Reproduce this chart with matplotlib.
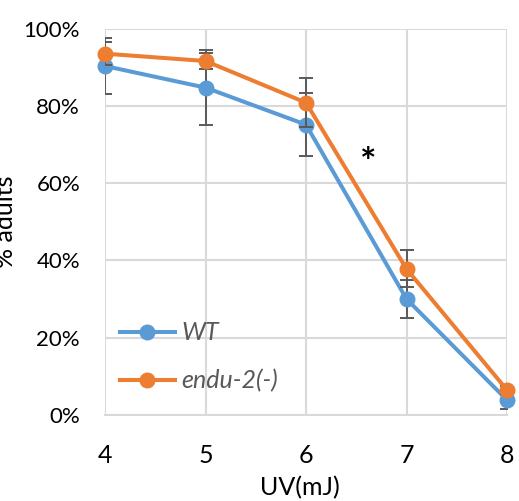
import matplotlib
matplotlib.use("Agg")
import matplotlib.pyplot as plt
from matplotlib.ticker import FuncFormatter

uv = [4, 5, 6, 7, 8]
wt = [0.904, 0.848, 0.752, 0.300, 0.038]
wt_err = [0.072, 0.098, 0.082, 0.048, 0.024]
endu = [0.936, 0.917, 0.809, 0.378, 0.064]
endu_err = [0.030, 0.021, 0.063, 0.048, 0.010]
series_names = ["WT", "endu-2(-)"]
yticks = [0, 0.2, 0.4, 0.6, 0.8, 1.0]

blue = "#5B9BD5"
orange = "#ED7D31"
errc = "#595959"
grid = "#D9D9D9"

plt.rcParams['font.family'] = ['Lato', 'DejaVu Sans']

fig = plt.figure(figsize=(5.19, 5.01), dpi=100)
ax = fig.add_axes([105/519, 1-414.7/501, (507-105)/519, (414.7-29)/501])

for vals, errs, col, name, z in [(wt, wt_err, blue, series_names[0], 3),
                                  (endu, endu_err, orange, series_names[1], 4)]:
    ax.errorbar(uv, vals, yerr=errs, fmt='none', ecolor=errc, elinewidth=1.4,
                capsize=5, capthick=1.4, zorder=z)
    ax.plot(uv, vals, color=col, lw=2.9, marker='o', markersize=10.5,
            label=name, zorder=z + 0.5, clip_on=False)

ax.set_xlim(4, 8)
ax.set_ylim(0, 1)
ax.set_xticks(uv)
ax.set_yticks(yticks)
ax.yaxis.set_major_formatter(FuncFormatter(lambda v, p: f"{v*100:.0f}%"))
ax.grid(True, color=grid, lw=1.5, zorder=0)
ax.set_axisbelow(True)
for s in ax.spines.values():
    s.set_visible(False)
ax.spines['bottom'].set_visible(True)
ax.spines['bottom'].set_color(grid)
ax.spines['bottom'].set_linewidth(1.5)
ax.tick_params(axis='both', length=0, colors='black')
ax.tick_params(axis='x', pad=21, labelsize=18)
ax.tick_params(axis='y', pad=18, labelsize=16)

ax.set_xlabel("UV(mJ)", fontsize=18)
ax.xaxis.set_label_coords((300-105)/402, -0.158)
ax.set_ylabel("% adults", fontsize=18)
ax.yaxis.set_label_coords(-0.218, 0.5)

ax.text(6.62, 0.65, "*", fontsize=28, fontweight='bold', ha='center', va='center', color='black')

leg = ax.legend(loc='lower left', bbox_to_anchor=(0.037, 0.057), frameon=False,
                prop={'style': 'italic', 'size': 18}, handlelength=2.2,
                labelspacing=1.0, handletextpad=0.25, borderaxespad=0, borderpad=0)
for t in leg.get_texts():
    t.set_color(errc)

fig.savefig("out.png", dpi=100)
